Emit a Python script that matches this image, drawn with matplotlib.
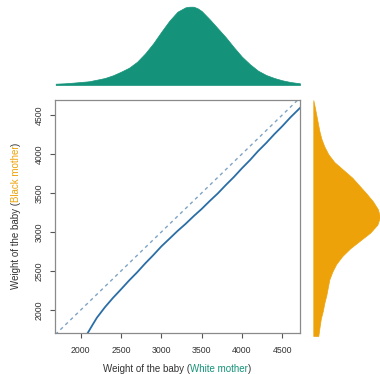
import matplotlib
matplotlib.use("Agg")
import matplotlib.pyplot as plt

# quantile pairs (white mother vs black mother)
white_q = [2040, 2090, 2150, 2200, 2300, 2400, 2500, 2600, 2700, 2800, 2900, 3000,
           3100, 3200, 3300, 3400, 3500, 3600, 3700, 3800, 3900, 4000, 4100, 4200,
           4300, 4400, 4500, 4600, 4720]
black_q = [1640, 1710, 1815, 1900, 2035, 2155, 2265, 2378, 2483, 2597, 2703, 2815,
           2913, 3012, 3103, 3202, 3295, 3397, 3494, 3602, 3705, 3817, 3922, 4037,
           4140, 4252, 4356, 4468, 4590]

# marginal density of the white mother weights (relative heights)
white_x = [1690, 1800, 1900, 2000, 2100, 2200, 2300, 2400, 2500, 2600, 2700, 2800,
           2900, 3000, 3100, 3200, 3300, 3350, 3400, 3450, 3500, 3600, 3700, 3800,
           3900, 4000, 4100, 4200, 4300, 4400, 4500, 4600, 4720]
white_d = [1.3, 1.7, 2.3, 3.0, 3.7, 5.3, 7.0, 9.7, 13.3, 17.3, 23.3, 31.7,
           41.7, 53.3, 64.3, 73.3, 77.7, 78.3, 78.3, 76.7, 74.0, 65.7, 56.7, 47.7,
           37.7, 28.3, 20.7, 14.3, 10.0, 7.0, 4.7, 3.0, 1.7]

# marginal density of the black mother weights (relative widths)
black_y = [4690, 4600, 4500, 4400, 4300, 4200, 4100, 4000, 3900, 3800, 3700, 3600,
           3500, 3400, 3300, 3200, 3100, 3000, 2900, 2800, 2700, 2600, 2500, 2400,
           2300, 2200, 2100, 2000, 1900, 1800, 1680]
black_d = [0.0, 1.5, 3.0, 4.5, 6.0, 8.0, 11.0, 15.0, 21.0, 30.0, 39.0, 46.0,
           53.0, 59.5, 64.5, 66.7, 64.0, 57.0, 47.0, 37.0, 29.0, 23.0, 19.0, 16.0,
           14.5, 13.0, 11.0, 9.5, 7.5, 6.3, 5.0]

green = "#15937a"
orange = "#eea20a"
blue = "#2b6ea6"
W, H = 380, 374

fig = plt.figure(figsize=(W / 100, H / 100), dpi=100)
plt.rcParams["font.family"] = ["Liberation Sans", "DejaVu Sans"]

def box(l, t, r, b):
    return [l / W, 1 - b / H, (r - l) / W, (b - t) / H]

ax = fig.add_axes(box(55.3, 100, 300, 332.7))
ax.plot([1500, 5000], [1500, 5000], color="#7ea3c4", lw=1.0, dashes=(2.5, 2.5))
ax.plot(white_q, black_q, color=blue, lw=1.3)
ax.set_xlim(1685, 4720)
ax.set_ylim(1709, 4692)
ticks = [2000, 2500, 3000, 3500, 4000, 4500]
ax.set_xticks(ticks)
ax.set_yticks(ticks)
ax.set_yticklabels([str(t) for t in ticks], rotation=90, va="center")
ax.tick_params(length=3.6, width=0.8, color="#555555", labelsize=6.3,
               labelcolor="#333333")
ax.tick_params(axis="x", pad=6)
ax.tick_params(axis="y", pad=4.5)
for s in ax.spines.values():
    s.set_color("#8a8a8a")
    s.set_linewidth(0.9)

# top marginal
axt = fig.add_axes(box(55.3, 4, 300, 86))
axt.fill_between(white_x, 0, white_d, color=green, lw=0.5, edgecolor=green)
axt.set_xlim(1685, 4720)
axt.set_ylim(-1, 81)
axt.axis("off")

# right marginal
axr = fig.add_axes(box(312, 98, 380, 337))
axr.fill_betweenx(black_y, 0, black_d, color=orange, lw=0.5, edgecolor=orange)
axr.set_xlim(-1.3, 66.7)
axr.set_ylim(1709 - 3.3 / 0.078, 4692 + 2 / 0.078)
axr.axis("off")

# two-coloured axis labels
def coloured_label(parts, x, y, vertical=False):
    fig.canvas.draw()
    r = fig.canvas.get_renderer()
    texts = []
    for s, c in parts:
        t = fig.text(0, 0, s, color=c, fontsize=7, rotation=90 if vertical else 0,
                     ha="left" if not vertical else "center",
                     va="center" if not vertical else "bottom")
        texts.append(t)
    sizes = []
    for t in texts:
        bb = t.get_window_extent(r)
        sizes.append(bb.height if vertical else bb.width)
    pos = (y if vertical else x) - sum(sizes) / 2
    for t, sz in zip(texts, sizes):
        if vertical:
            t.set_position((x / W, 1 - (H - pos) / H))
        else:
            t.set_position((pos / W, 1 - y / H))
        pos += sz

coloured_label([("Weight of the baby (", "#333333"), ("White mother", green),
                (")", "#333333")], 177.5, 369)
coloured_label([("Weight of the baby (", "#333333"), ("Black mother", orange),
                (")", "#333333")], 16, H - 216, vertical=True)

fig.savefig("out.png", dpi=100)
